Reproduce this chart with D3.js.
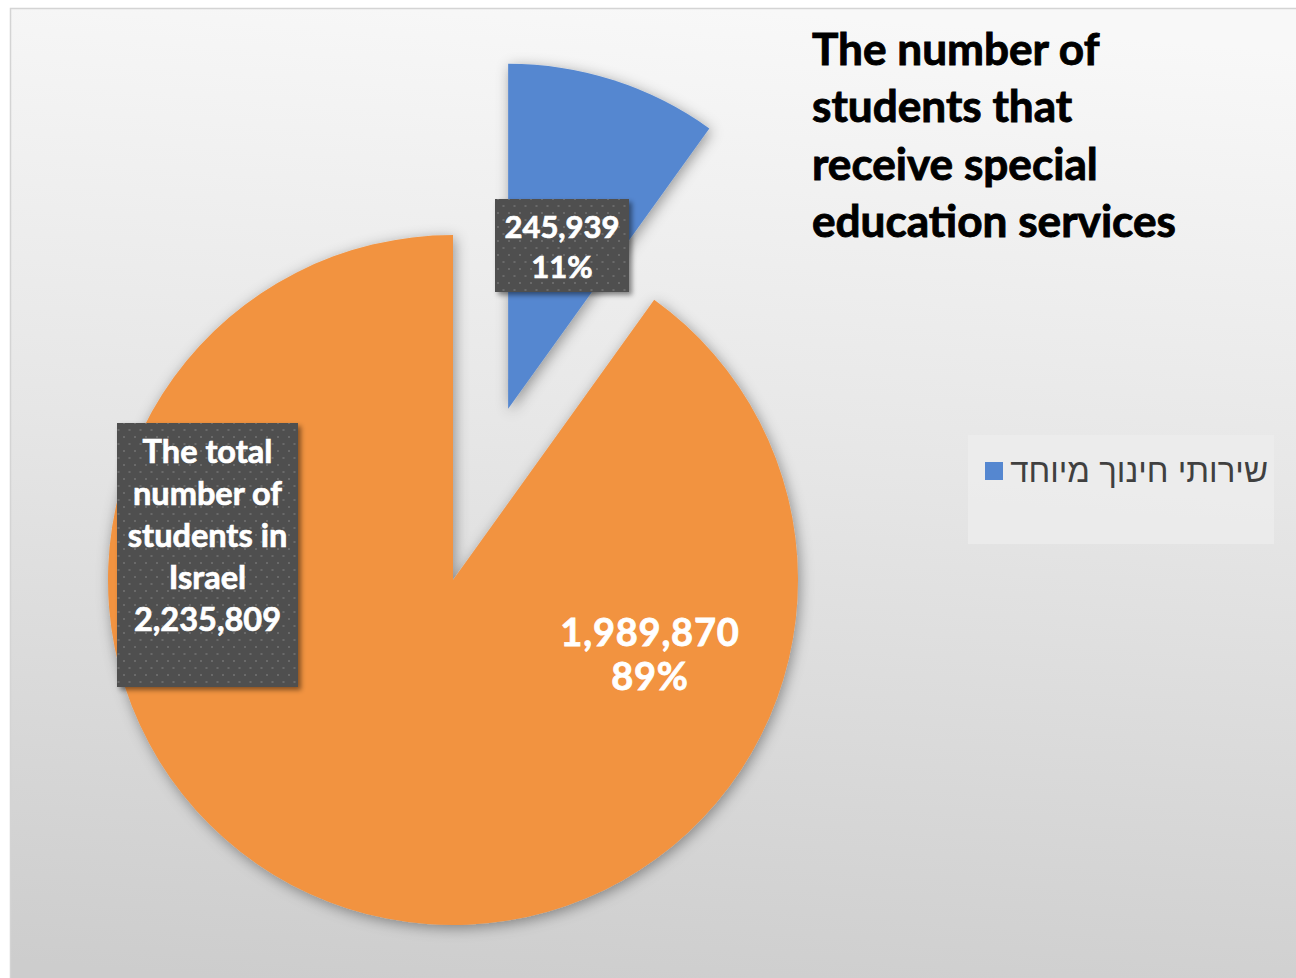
<!DOCTYPE html>
<html>
<head>
<meta charset="utf-8">
<script src="https://cdn.jsdelivr.net/npm/d3@7"></script>
<style>
  html, body { margin: 0; padding: 0; background: #ffffff; }
  svg { display: block; }
</style>
</head>
<body>
<svg id="chart" width="1296" height="978"></svg>
<script>
// ---------------- data ----------------
const categories = ["שירותי חינוך מיוחד", ""];      // legend shows only the first name
const plottedValues = [245939, 2235809];               // values behind slice angles
const labelValues = [245939, 1989870];                 // numbers printed on slices
const totalStudents = 2235809;
const totalLabelLines = ["The total", "number of", "students in", "Israel"];
const titleLines = ["The number of", "students that", "receive special", "education services"];
const sliceColors = ["#5587d0", "#f29341"];

// ---------------- layout ----------------
const W = 1296, H = 978;
const svg = d3.select("#chart");
const defs = svg.append("defs");

const bg = defs.append("linearGradient").attr("id", "bgGrad")
  .attr("x1", "0.55").attr("y1", "0").attr("x2", "0.45").attr("y2", "1");
bg.append("stop").attr("offset", "0").attr("stop-color", "#f8f8f8");
bg.append("stop").attr("offset", "0.45").attr("stop-color", "#e6e6e6");
bg.append("stop").attr("offset", "1").attr("stop-color", "#cdcdcd");

const sh = defs.append("filter").attr("id", "pieShadow")
  .attr("x", "-20%").attr("y", "-20%").attr("width", "140%").attr("height", "140%");
sh.append("feDropShadow").attr("dx", 2).attr("dy", 3).attr("stdDeviation", 7)
  .attr("flood-color", "#000").attr("flood-opacity", 0.38);

const bsh = defs.append("filter").attr("id", "boxShadow")
  .attr("x", "-20%").attr("y", "-20%").attr("width", "140%").attr("height", "140%");
bsh.append("feDropShadow").attr("dx", 3).attr("dy", 3).attr("stdDeviation", 2.5)
  .attr("flood-color", "#000").attr("flood-opacity", 0.45);

const pat = defs.append("pattern").attr("id", "dots")
  .attr("patternUnits", "userSpaceOnUse").attr("width", 11).attr("height", 14);
pat.append("rect").attr("width", 11).attr("height", 14).attr("fill", "#4f4f4f");
pat.append("rect").attr("x", 2).attr("y", 2).attr("width", 2).attr("height", 2).attr("fill", "#6b6b6b");
pat.append("rect").attr("x", 7.5).attr("y", 9).attr("width", 2).attr("height", 2).attr("fill", "#6b6b6b");

// chart area
svg.append("rect").attr("x", 10.5).attr("y", 8.5).attr("width", W + 20).attr("height", H + 20)
  .attr("fill", "url(#bgGrad)").attr("stroke", "#d4d4d4").attr("stroke-width", 1.5);

// ---------------- pie ----------------
const cx = 453, cy = 580, R = 345, explode = 180;
const pie = d3.pie().sort(null).value(d => d);
const arcs = pie(plottedValues);
const arc = d3.arc().innerRadius(0).outerRadius(R);

const gPie = svg.append("g").attr("transform", `translate(${cx},${cy})`);
gPie.selectAll("path").data(arcs).join("path")
  .attr("d", arc)
  .attr("fill", (d, i) => sliceColors[i])
  .attr("filter", "url(#pieShadow)")
  .attr("transform", (d, i) => {
    if (i !== 0) return null;
    const mid = (d.startAngle + d.endAngle) / 2;
    return `translate(${explode * Math.sin(mid)},${-explode * Math.cos(mid)})`;
  });

// ---------------- labels ----------------
const fmtN = d3.format(",");
const fmtP = d3.format(".0%");
const labelFont = "Lato, 'Open Sans', sans-serif";

function labelBox(x, y, w, h, lines, fontSize, firstBaseline, lineGap) {
  const g = svg.append("g");
  g.append("rect").attr("x", x).attr("y", y).attr("width", w).attr("height", h)
    .attr("fill", "url(#dots)").attr("filter", "url(#boxShadow)");
  g.selectAll("text").data(lines).join("text")
    .attr("x", x + w / 2).attr("y", (d, i) => firstBaseline + i * lineGap)
    .attr("text-anchor", "middle").attr("fill", "#ffffff")
    .attr("stroke", "#ffffff").attr("stroke-width", 0.7)
    .style("font-family", labelFont).style("font-weight", 700)
    .style("font-size", fontSize + "px").text(d => d);
}

// blue slice label
labelBox(495, 199, 134, 93,
  [fmtN(labelValues[0]), fmtP(labelValues[0] / totalStudents)], 31, 238, 40);

// total label
labelBox(117, 423, 181, 264,
  totalLabelLines.concat([fmtN(totalStudents)]), 32.5, 463, 42);

// orange slice label
svg.append("g").selectAll("text")
  .data([fmtN(labelValues[1]), fmtP(labelValues[1] / totalStudents)])
  .join("text")
  .attr("x", 650).attr("y", (d, i) => 646 + i * 44)
  .attr("text-anchor", "middle").attr("fill", "#ffffff")
  .attr("stroke", "#ffffff").attr("stroke-width", 0.8)
  .style("font-family", labelFont).style("font-weight", 700)
  .style("letter-spacing", "0.8px")
  .style("font-size", "38px").text(d => d);

// ---------------- title ----------------
const tg = svg.append("g");
const tt = tg.selectAll("text").data(titleLines).join("text")
  .attr("x", 812).attr("y", (d, i) => 65 + i * 57.3)
  .attr("fill", "#000").attr("stroke", "#000").attr("stroke-width", 0.9)
  .style("font-family", labelFont).style("font-weight", 700)
  .style("font-size", "42px").text(d => d);
// fit longest line to reference width
const longest = tt.nodes()[3].getComputedTextLength();
tt.style("font-size", (42 * 364 / longest) + "px");

// ---------------- legend ----------------
svg.append("rect").attr("x", 968).attr("y", 435).attr("width", 306).attr("height", 109)
  .attr("fill", "#ececec").attr("opacity", 0.85);
svg.append("rect").attr("x", 985).attr("y", 462).attr("width", 18).attr("height", 18)
  .attr("fill", sliceColors[0]);
const lt = svg.append("text").attr("x", 1268).attr("y", 482)
  .attr("text-anchor", "end").attr("fill", "#404040")
  .style("font-family", "'Liberation Sans', 'DejaVu Sans', sans-serif")
  .style("font-size", "30px").text(categories[0]);
const lw = lt.node().getComputedTextLength();
lt.style("font-size", (30 * 258 / lw) + "px");
</script>
</body>
</html>
